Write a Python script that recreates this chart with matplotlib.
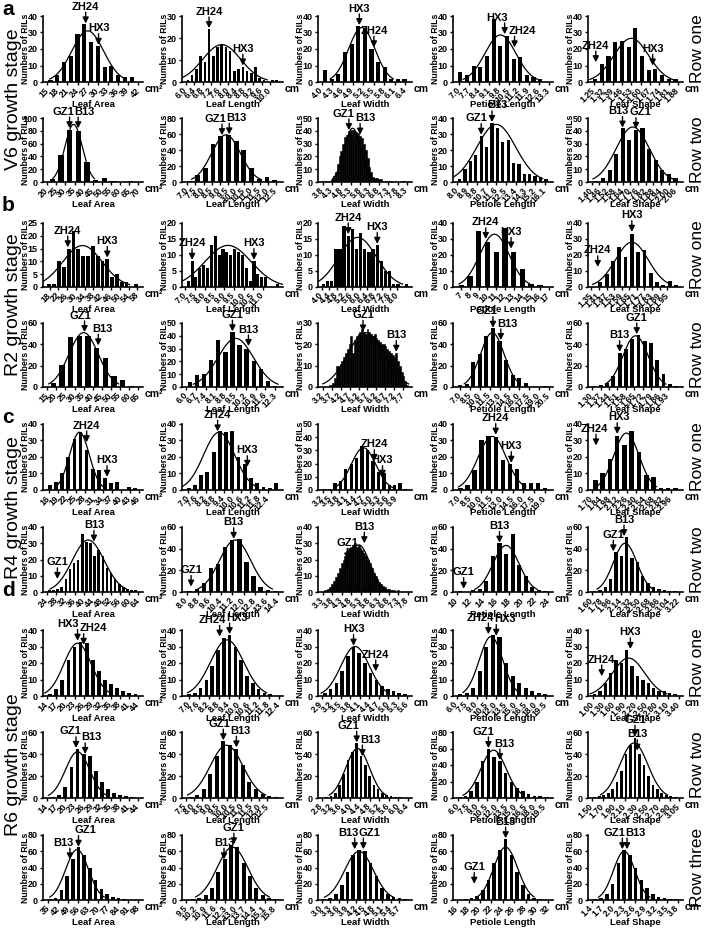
import numpy as np
import matplotlib
matplotlib.use('Agg')
import matplotlib.pyplot as plt

plt.rcParams['font.family'] = ['Liberation Sans', 'DejaVu Sans']
plt.rcParams['font.weight'] = 'bold'

# ---------------------------------------------------------------- data
TRAITS = ['area', 'length', 'width', 'petiole', 'shape']
TRAIT_LABELS = ['Leaf Area', 'Leaf Length', 'Leaf Width', 'Petiole Length', 'Leaf Shape']
TRAIT_UNITS = ['cm\u00b2', 'cm', 'cm', 'cm', 'cm']
ROWS = ['v6r1', 'v6r2', 'r2r1', 'r2r2', 'r4r1', 'r4r2', 'r6r1', 'r6r2', 'r6r3']
ROW_LABELS = ['Row one', 'Row two', 'Row one', 'Row two', 'Row one', 'Row two',
              'Row one', 'Row two', 'Row three']
STAGE_LETTERS = ['a', 'b', 'c', 'd']
STAGE_NAMES = ['V6 growth stage', 'R2 growth stage', 'R4 growth stage', 'R6 growth stage']
STAGE_ROWS = [[0, 1], [2, 3], [4, 5], [6, 7, 8]]

# ---- V6, row one
v6r1_ymax = [40, 30, 40, 40, 40]
v6r1_area_counts = [1, 4, 12, 16, 29, 35, 24, 22, 9, 10, 4, 3, 3]
v6r1_area_bins = (16, 2)
v6r1_area_ticks = ['15', '18', '21', '24', '27', '30', '33', '36', '39', '42']
v6r1_area_fit = (27, 4.7, 31)
v6r1_area_marks = [('ZH24', 26.4, 35.5), ('HX3', 30.2, 22.5)]
v6r1_length_counts = [1, 3, 6, 12, 9, 24, 12, 16, 17, 16, 14, 5, 6, 7, 5, 4, 7, 2, 1, 0, 1, 1]
v6r1_length_bins = (6.1, 0.2)
v6r1_length_ticks = ['6.0', '6.4', '6.8', '7.2', '7.6', '8.0', '8.4', '8.8', '9.2', '9.6', '10.0']
v6r1_length_fit = (7.7, 0.9, 17)
v6r1_length_marks = [('ZH24', 7.1, 24.5), ('HX3', 8.7, 7.5)]
v6r1_width_counts = [7, 2, 5, 18, 23, 34, 33, 20, 12, 9, 2, 2, 2]
v6r1_width_bins = (4.1, 0.19)
v6r1_width_ticks = ['4.0', '4.3', '4.6', '4.9', '5.2', '5.5', '5.8', '6.1', '6.4']
v6r1_width_fit = (5.15, 0.38, 33)
v6r1_width_marks = [('HX3', 5.08, 34.5), ('ZH24', 5.5, 21)]
v6r1_petiole_counts = [6, 4, 10, 9, 16, 38, 22, 28, 14, 15, 4, 3, 2]
v6r1_petiole_bins = (7.07, 0.47)
v6r1_petiole_ticks = ['7.0', '7.7', '8.4', '9.1', '9.8', '10.5', '11.2', '11.9', '12.6', '13.3']
v6r1_petiole_fit = (9.9, 1.1, 28.5)
v6r1_petiole_marks = [('HX3', 10.2, 29), ('ZH24', 10.9, 21)]
v6r1_shape_counts = [2, 11, 16, 24, 25, 21, 33, 16, 7, 8, 4, 2, 2]
v6r1_shape_bins = (1.26, 0.05)
v6r1_shape_ticks = ['1.25', '1.32', '1.39', '1.46', '1.53', '1.60', '1.67', '1.74', '1.81', '1.88']
v6r1_shape_fit = (1.53, 0.13, 26.5)
v6r1_shape_marks = [('ZH24', 1.265, 12), ('HX3', 1.69, 10)]

# ---- V6, row two
v6r2_ymax = [100, 80, 50, 40, 50]
v6r2_area_counts = [4, 42, 82, 80, 32, 3, 6, 1, 0, 1]
v6r2_area_bins = (22.9, 4.75)
v6r2_area_ticks = ['20', '25', '30', '35', '40', '45', '50', '55', '60', '65', '70']
v6r2_area_fit = (34.5, 4.8, 90)
v6r2_area_marks = [('GZ1', 32.3, 84), ('B13', 37.0, 84)]
v6r2_length_counts = [1, 9, 18, 47, 58, 59, 51, 40, 18, 4, 6, 2]
v6r2_length_bins = (7.15, 0.48)
v6r2_length_ticks = ['7.0', '7.5', '8.0', '8.5', '9.0', '9.5', '10.0', '10.5', '11.0', '11.5',
                     '12.0', '12.5']
v6r2_length_fit = (9.4, 0.9, 59)
v6r2_length_marks = [('GZ1', 9.15, 58.5), ('B13', 9.6, 59.5)]
v6r2_width_counts = [1, 1, 0, 0, 1, 2, 5, 8, 14, 20, 24, 30, 35, 37, 40, 41, 41, 40, 39, 38,
                     36, 34, 30, 25, 19, 12, 8, 4, 3, 3, 2, 2, 0, 0, 1, 0, 1, 0, 0, 0, 0, 0,
                     0, 1, 0, 0]
v6r2_width_bins = (3.8, 0.1)
v6r2_width_ticks = ['3.8', '4.3', '4.8', '5.3', '5.8', '6.3', '6.8', '7.3', '7.8', '8.3']
v6r2_width_fit = (5.4, 0.45, 42)
v6r2_width_marks = [('GZ1', 5.2, 40.5), ('B13', 5.8, 37)]
v6r2_petiole_counts = [2, 8, 13, 17, 29, 22, 37, 34, 25, 26, 12, 11, 5, 5, 4, 3, 2]
v6r2_petiole_bins = (8.2, 0.5)
v6r2_petiole_ticks = ['8.0', '8.9', '9.8', '10.7', '11.6', '12.5', '13.4', '14.3', '15.2', '16.1']
v6r2_petiole_fit = (11.6, 1.8, 36)
v6r2_petiole_marks = [('GZ1', 10.2, 29.5), ('B13', 11.2, 37.5)]
v6r2_shape_counts = [1, 3, 9, 22, 42, 33, 41, 42, 26, 17, 9, 6, 3]
v6r2_shape_bins = (1.436, 0.0515)
v6r2_shape_ticks = ['1.40', '1.46', '1.52', '1.58', '1.64', '1.70', '1.76', '1.82', '1.88',
                    '1.94', '2.00', '2.06']
v6r2_shape_fit = (1.72, 0.13, 43)
v6r2_shape_marks = [('B13', 1.64, 42.5), ('GZ1', 1.745, 41.5)]

# ---- R2, row one
r2r1_ymax = [25, 20, 20, 40, 40]
r2r1_area_counts = [1, 1, 10, 8, 15, 22, 15, 12, 12, 16, 12, 10, 11, 4, 5, 2, 2, 0, 1]
r2r1_area_bins = (17.9, 2.2)
r2r1_area_ticks = ['18', '22', '26', '30', '34', '38', '42', '46', '50', '54', '58']
r2r1_area_fit = (33, 9, 16.2)
r2r1_area_marks = [('ZH24', 26.3, 15.5), ('HX3', 44.3, 11.5)]
r2r1_length_counts = [2, 8, 3, 6, 7, 6, 13, 16, 10, 12, 11, 10, 12, 11, 10, 6, 2, 8, 4, 3, 3,
                      0, 0, 1]
r2r1_length_bins = (7.14, 0.2)
r2r1_length_ticks = ['7.0', '7.5', '8.0', '8.5', '9.0', '9.5', '10.0', '10.5', '11.0']
r2r1_length_fit = (9.2, 1.2, 13)
r2r1_length_marks = [('ZH24', 7.34, 8.5), ('HX3', 10.54, 8.5)]
r2r1_width_counts = [1, 2, 2, 12, 12, 19, 16, 18, 12, 17, 12, 11, 12, 13, 8, 5, 5, 1, 1, 0, 1]
r2r1_width_bins = (4.08, 0.22)
r2r1_width_ticks = ['4.0', '4.4', '4.8', '5.2', '5.6', '6.0', '6.4', '6.8', '7.2', '7.6', '8.0']
r2r1_width_fit = (5.9, 1.0, 15.5)
r2r1_width_marks = [('ZH24', 5.4, 16.5), ('HX3', 6.94, 13.5)]
r2r1_petiole_counts = [1, 7, 35, 28, 22, 37, 22, 11, 2, 1]
r2r1_petiole_bins = (7.0, 1.0)
r2r1_petiole_ticks = ['7', '8', '9', '10', '11', '12', '13', '14', '15', '16', '17']
r2r1_petiole_fit = (10.8, 1.7, 33)
r2r1_petiole_marks = [('ZH24', 9.8, 30), ('HX3', 12.7, 24)]
r2r1_shape_counts = [3, 8, 16, 25, 19, 33, 22, 23, 9, 3, 1, 4, 1]
r2r1_shape_bins = (1.42, 0.05)
r2r1_shape_ticks = ['1.35', '1.41', '1.47', '1.53', '1.59', '1.65', '1.71', '1.77', '1.83',
                    '1.89', '1.95']
r2r1_shape_fit = (1.67, 0.13, 28)
r2r1_shape_marks = [('ZH24', 1.40, 12.5), ('HX3', 1.67, 34.5)]

# ---- R2, row two
r2r2_ymax = [60, 50, 30, 60, 60]
r2r2_area_counts = [4, 21, 47, 48, 48, 37, 27, 10, 7, 1]
r2r2_area_bins = (18.4, 4.75)
r2r2_area_ticks = ['15', '20', '25', '30', '35', '40', '45', '50', '55', '60', '65']
r2r2_area_fit = (35, 8, 51)
r2r2_area_marks = [('GZ1', 35.5, 51.5), ('B13', 43.0, 39)]
r2r2_length_counts = [4, 9, 10, 21, 37, 27, 43, 33, 30, 20, 14, 5, 1]
r2r2_length_bins = (6.27, 0.5)
r2r2_length_ticks = ['6.0', '6.7', '7.4', '8.1', '8.8', '9.5', '10.2', '10.9', '11.6', '12.3']
r2r2_length_fit = (9.5, 1.25, 38)
r2r2_length_marks = [('GZ1', 9.27, 43.5), ('B13', 10.4, 32)]
r2r2_width_counts = [0, 0, 0, 0, 1, 1, 2, 4, 10, 10, 11, 12, 14, 16, 18, 20, 24, 16, 22, 24,
                     25, 26, 27, 26, 25, 27, 26, 25, 24, 25, 23, 22, 21, 20, 20, 19, 18, 17,
                     16, 15, 14, 16, 12, 10, 7, 5, 3, 1]
r2r2_width_bins = (3.2, 0.1)
r2r2_width_ticks = ['3.2', '3.7', '4.2', '4.7', '5.2', '5.7', '6.2', '6.7', '7.2', '7.7']
r2r2_width_fit = (5.6, 1.0, 25.5)
r2r2_width_marks = [('GZ1', 5.45, 26), ('B13', 7.3, 16.5)]
r2r2_petiole_counts = [2, 3, 23, 31, 48, 55, 43, 25, 11, 8, 4, 0, 0, 1]
r2r2_petiole_bins = (7.0, 1.0)
r2r2_petiole_ticks = ['7.0', '8.5', '10.0', '11.5', '13.0', '14.5', '16.0', '17.5', '19.0', '20.5']
r2r2_petiole_fit = (11.9, 1.8, 51)
r2r2_petiole_marks = [('GZ1', 12.0, 55.5), ('B13', 13.2, 44)]
r2r2_shape_counts = [1, 2, 4, 10, 32, 36, 45, 49, 43, 41, 25, 12, 3, 1]
r2r2_shape_bins = (1.32, 0.052)
r2r2_shape_ticks = ['1.30', '1.37', '1.44', '1.51', '1.58', '1.65', '1.72', '1.79', '1.86', '1.93']
r2r2_shape_fit = (1.66, 0.105, 48)
r2r2_shape_marks = [('B13', 1.528, 33), ('GZ1', 1.67, 49.5)]

# ---- R4, row one
r4r1_ymax = [40, 40, 50, 40, 40]
r4r1_area_counts = [3, 5, 10, 20, 31, 35, 24, 13, 12, 7, 4, 5, 0, 2, 1]
r4r1_area_bins = (16.5, 2.03)
r4r1_area_ticks = ['16', '19', '22', '25', '28', '31', '34', '37', '40', '43', '46']
r4r1_area_fit = (26.3, 3.3, 35)
r4r1_area_marks = [('ZH24', 28.7, 29), ('HX3', 35.5, 8)]
r4r1_length_counts = [1, 3, 9, 11, 23, 36, 35, 36, 20, 16, 7, 4, 2, 1, 4]
r4r1_length_bins = (7.05, 0.42)
r4r1_length_ticks = ['7.0', '7.6', '8.2', '8.8', '9.4', '10.0', '10.6', '11.2', '11.8', '12.4']
r4r1_length_fit = (9.1, 1.05, 35)
r4r1_length_marks = [('ZH24', 9.0, 35.5), ('HX3', 11.0, 14)]
r4r1_width_counts = [1, 1, 5, 7, 16, 20, 24, 33, 30, 22, 14, 13, 4, 4, 5, 1]
r4r1_width_bins = (3.25, 0.2)
r4r1_width_ticks = ['3.2', '3.5', '3.8', '4.1', '4.4', '4.7', '5.0', '5.3', '5.6', '5.9']
r4r1_width_fit = (4.7, 0.45, 32)
r4r1_width_marks = [('ZH24', 5.1, 22), ('HX3', 5.4, 10)]
r4r1_petiole_counts = [1, 3, 12, 30, 33, 32, 18, 16, 13, 4, 4, 4, 1]
r4r1_petiole_bins = (7.1, 1.0)
r4r1_petiole_ticks = ['7.0', '8.5', '10.0', '11.5', '13.0', '14.5', '16.0', '17.5', '19.0']
r4r1_petiole_fit = (11.6, 2.0, 32.5)
r4r1_petiole_marks = [('ZH24', 12.1, 33.5), ('HX3', 14.3, 16.5)]
r4r1_shape_counts = [6, 10, 19, 33, 27, 36, 23, 9, 8, 1, 1, 1]
r4r1_shape_bins = (1.76, 0.115)
r4r1_shape_ticks = ['1.70', '1.84', '1.98', '2.12', '2.26', '2.40', '2.54', '2.68', '2.82', '2.96']
r4r1_shape_fit = (2.25, 0.2, 34.5)
r4r1_shape_marks = [('ZH24', 1.77, 27), ('HX3', 2.105, 34)]

# ---- R4, row two
r4r2_ymax = [40, 60, 40, 60, 60]
r4r2_area_counts = [1, 1, 2, 3, 8, 14, 18, 20, 36, 31, 30, 22, 26, 22, 15, 12, 8, 5, 3, 2, 1, 1]
r4r2_area_bins = (25, 1.8)
r4r2_area_ticks = ['24', '28', '32', '36', '40', '44', '48', '52', '56', '60', '64']
r4r2_area_fit = (42, 7, 32)
r4r2_area_marks = [('GZ1', 28.5, 8), ('B13', 44.5, 31)]
r4r2_length_counts = [1, 3, 8, 22, 26, 42, 48, 49, 28, 15, 5, 2, 1]
r4r2_length_bins = (8.2, 0.5)
r4r2_length_ticks = ['8.0', '8.8', '9.6', '10.4', '11.2', '12.0', '12.8', '13.6', '14.4']
r4r2_length_fit = (11.4, 1.1, 48)
r4r2_length_marks = [('GZ1', 8.3, 5), ('B13', 11.3, 49)]
r4r2_width_counts = [0, 1, 1, 2, 3, 5, 7, 9, 12, 15, 18, 20, 22, 25, 27, 28, 29, 30, 28, 29,
                     27, 26, 24, 22, 20, 18, 15, 12, 10, 8, 6, 5, 4, 3, 2, 2, 1, 1, 1, 0, 1]
r4r2_width_bins = (3.3, 0.1)
r4r2_width_ticks = ['3.3', '3.8', '4.3', '4.8', '5.3', '5.8', '6.3', '6.8', '7.3', '7.8']
r4r2_width_fit = (5.2, 0.6, 29)
r4r2_width_marks = [('GZ1', 4.6, 20), ('B13', 5.5, 30)]
r4r2_petiole_counts = [1, 0, 2, 3, 10, 33, 45, 35, 54, 25, 15, 5, 2, 1]
r4r2_petiole_bins = (10.5, 1.0)
r4r2_petiole_ticks = ['10', '12', '14', '16', '18', '20', '22', '24']
r4r2_petiole_fit = (17.5, 2, 43)
r4r2_petiole_marks = [('GZ1', 11.0, 3), ('B13', 16.5, 45.5)]
r4r2_shape_counts = [1, 2, 5, 12, 37, 33, 51, 31, 28, 15, 8, 5, 3, 2, 1, 1]
r4r2_shape_bins = (1.65, 0.1)
r4r2_shape_ticks = ['1.60', '1.78', '1.96', '2.14', '2.32', '2.50', '2.68', '2.86', '3.04', '3.22']
r4r2_shape_fit = (2.22, 0.22, 45)
r4r2_shape_marks = [('GZ1', 2.0, 37.5), ('B13', 2.2, 51.5)]

# ---- R6, row one
r6r1_ymax = [40, 40, 40, 40, 40]
r6r1_area_counts = [1, 4, 10, 22, 30, 33, 32, 22, 15, 10, 7, 5, 3, 2, 1]
r6r1_area_bins = (15, 2)
r6r1_area_ticks = ['14', '17', '20', '23', '26', '29', '32', '35', '38', '41', '44']
r6r1_area_fit = (24, 4.5, 32)
r6r1_area_marks = [('HX3', 24.0, 33.5), ('ZH24', 26.0, 31)]
r6r1_length_counts = [1, 2, 5, 10, 18, 28, 35, 37, 30, 22, 12, 8, 4, 2, 1]
r6r1_length_bins = (7.0, 0.35)
r6r1_length_ticks = ['7.0', '7.6', '8.2', '8.8', '9.4', '10.0', '10.6', '11.2', '11.8', '12.4']
r6r1_length_fit = (9.3, 1.0, 34)
r6r1_length_marks = [('ZH24', 8.85, 36), ('HX3', 9.45, 37.5)]
r6r1_width_counts = [2, 4, 8, 15, 24, 30, 26, 20, 14, 10, 6, 4, 3, 2, 1]
r6r1_width_bins = (3.0, 0.18)
r6r1_width_ticks = ['2.9', '3.2', '3.5', '3.8', '4.1', '4.4', '4.7', '5.0', '5.3', '5.6']
r6r1_width_fit = (3.95, 0.45, 30)
r6r1_width_marks = [('HX3', 3.9, 30.5), ('ZH24', 4.6, 15)]
r6r1_petiole_counts = [1, 2, 5, 15, 30, 37, 36, 20, 12, 8, 5, 3, 2, 1]
r6r1_petiole_bins = (6.5, 1.0)
r6r1_petiole_ticks = ['6.0', '7.5', '9.0', '10.5', '12.0', '13.5', '15.0', '16.5', '18.0', '19.5']
r6r1_petiole_fit = (11.2, 1.8, 36)
r6r1_petiole_marks = [('ZH24', 10.8, 37.5), ('HX3', 12.0, 36.5)]
r6r1_shape_counts = [1, 3, 8, 14, 22, 20, 28, 18, 12, 10, 8, 5, 3, 3, 2, 1]
r6r1_shape_bins = (1.05, 0.15)
r6r1_shape_ticks = ['1.00', '1.30', '1.60', '1.90', '2.20', '2.50', '2.80', '3.10', '3.40']
r6r1_shape_fit = (2.0, 0.45, 23)
r6r1_shape_marks = [('ZH24', 1.25, 12), ('HX3', 2.05, 28.5)]

# ---- R6, row two
r6r2_ymax = [60, 60, 60, 80, 60]
r6r2_area_counts = [1, 3, 10, 28, 45, 40, 38, 25, 15, 8, 5, 3, 2, 1]
r6r2_area_bins = (16, 2)
r6r2_area_ticks = ['14', '17', '20', '23', '26', '29', '32', '35', '38', '41', '44']
r6r2_area_fit = (24, 4, 42)
r6r2_area_marks = [('GZ1', 23.5, 45.5), ('B13', 26.5, 40)]
r6r2_length_counts = [1, 3, 8, 22, 38, 52, 48, 45, 30, 15, 8, 4, 2, 1]
r6r2_length_bins = (7.8, 0.4)
r6r2_length_ticks = ['7.5', '8.0', '8.5', '9.0', '9.5', '10.0', '10.5', '11.0', '11.5', '12.0', '12.5']
r6r2_length_fit = (10, 1, 48)
r6r2_length_marks = [('GZ1', 9.8, 52.5), ('B13', 10.6, 46)]
r6r2_width_counts = [1, 2, 5, 12, 22, 35, 42, 50, 38, 30, 20, 12, 8, 5, 3, 2, 1, 1]
r6r2_width_bins = (3.0, 0.18)
r6r2_width_ticks = ['2.8', '3.2', '3.6', '4.0', '4.4', '4.8', '5.2', '5.6', '6.0', '6.4']
r6r2_width_fit = (4.3, 0.5, 45)
r6r2_width_marks = [('GZ1', 4.26, 50.5), ('B13', 4.5, 38)]
r6r2_petiole_counts = [1, 3, 8, 20, 45, 60, 50, 45, 30, 20, 12, 8, 5, 3, 2, 1]
r6r2_petiole_bins = (6.2, 0.9)
r6r2_petiole_ticks = ['6.0', '7.5', '9.0', '10.5', '12.0', '13.5', '15.0', '16.5', '18.0', '19.5']
r6r2_petiole_fit = (11.5, 2, 58)
r6r2_petiole_marks = [('GZ1', 10.7, 60.5), ('B13', 12.5, 46)]
r6r2_shape_counts = [1, 2, 3, 5, 8, 15, 25, 40, 48, 55, 40, 30, 20, 12, 8, 5, 3, 2, 1]
r6r2_shape_bins = (1.55, 0.08)
r6r2_shape_ticks = ['1.50', '1.70', '1.90', '2.10', '2.30', '2.50', '2.70', '2.90', '3.05']
r6r2_shape_fit = (2.25, 0.25, 50)
r6r2_shape_marks = [('GZ1', 2.27, 56), ('B13', 2.31, 43)]

# ---- R6, row three
r6r3_ymax = [80, 80, 80, 80, 80]
r6r3_area_counts = [1, 3, 12, 30, 50, 65, 55, 40, 25, 14, 8, 4, 2, 1]
r6r3_area_bins = (36, 4)
r6r3_area_ticks = ['35', '42', '49', '56', '63', '70', '77', '84', '91', '98']
r6r3_area_fit = (55, 8, 62)
r6r3_area_marks = [('B13', 50, 50), ('GZ1', 56, 65.5)]
r6r3_length_counts = [1, 2, 6, 15, 35, 50, 68, 65, 45, 30, 15, 6, 3, 1]
r6r3_length_bins = (10.0, 0.45)
r6r3_length_ticks = ['9.5', '10.2', '10.9', '11.6', '12.3', '13.0', '13.7', '14.4', '15.1', '15.8']
r6r3_length_fit = (12.8, 1.1, 65)
r6r3_length_marks = [('B13', 12.2, 50), ('GZ1', 12.9, 68.5)]
r6r3_width_counts = [1, 3, 8, 18, 35, 55, 62, 60, 45, 30, 15, 8, 4, 2, 1]
r6r3_width_bins = (3.1, 0.2)
r6r3_width_ticks = ['3.0', '3.3', '3.6', '3.9', '4.2', '4.5', '4.8', '5.1', '5.4', '5.7']
r6r3_width_fit = (4.3, 0.5, 60)
r6r3_width_marks = [('B13', 4.15, 62.5), ('GZ1', 4.45, 62.5)]
r6r3_petiole_counts = [1, 2, 5, 12, 25, 45, 62, 75, 55, 35, 18, 8, 3, 1]
r6r3_petiole_bins = (17.5, 1.0)
r6r3_petiole_ticks = ['16', '18', '20', '22', '24', '26', '28', '30', '32']
r6r3_petiole_fit = (24.5, 2.1, 65)
r6r3_petiole_marks = [('GZ1', 19.0, 20), ('B13', 24.5, 76)]
r6r3_shape_counts = [1, 3, 8, 20, 45, 62, 55, 40, 25, 15, 8, 4, 2, 1, 1]
r6r3_shape_bins = (1.5, 0.16)
r6r3_shape_ticks = ['1.4', '1.7', '2.0', '2.3', '2.6', '2.9', '3.2', '3.5', '3.8']
r6r3_shape_fit = (2.3, 0.3, 60)
r6r3_shape_marks = [('GZ1', 2.25, 62.5), ('B13', 2.38, 62.5)]

# ---------------------------------------------------------------- layout (pixels)
FIG_W, FIG_H = 704, 944
COL_L = [43, 182, 318, 453, 588]
COL_R = [143, 283, 412, 553, 683]
ROW_T = [16, 118, 223, 323, 424, 527, 630, 732, 835]
ROW_B = [82, 182, 287, 387, 490, 592, 696, 798, 900]
DENSE = {'v6r2_width', 'r2r2_width', 'r4r2_width'}
WIDE = {'r2r1_area', 'r2r1_length', 'r2r1_width'}

fig = plt.figure(figsize=(FIG_W / 100, FIG_H / 100), dpi=100)


def ystep(ymax):
    if ymax <= 25:
        return 5
    if ymax <= 50:
        return 10
    return 20


def draw_panel(ax, key, ymax, label, unit, ax_w_px, ax_h_px):
    counts = np.asarray(globals()[key + '_counts'], float)
    c0, w = globals()[key + '_bins']
    ticks = globals()[key + '_ticks']
    mu, sd, pk = globals()[key + '_fit']
    marks = globals()[key + '_marks']

    centers = c0 + w * np.arange(len(counts))
    tv = np.array([float(t) for t in ticks])
    lo = min(tv[0], centers[0] - w / 2)
    hi = max(tv[-1], centers[-1] + w / 2)
    span = tv[-1] - tv[0]
    x0, x1 = lo - 0.045 * span, hi + 0.05 * span
    ax.set_xlim(x0, x1)
    ax.set_ylim(0, ymax)

    if key in DENSE:
        ax.bar(centers, counts, width=w, color='k', edgecolor='k', linewidth=0.4)
    else:
        fill = 0.8 if key in WIDE else 0.62
        ax.bar(centers, counts, width=w * fill, color='k', linewidth=0)

    xs = np.linspace(max(mu - 2.4 * sd, x0), min(mu + 2.4 * sd, x1), 200)
    ax.plot(xs, pk * np.exp(-0.5 * ((xs - mu) / sd) ** 2), color='k', lw=0.9,
            solid_capstyle='round')

    for s in ('top', 'right'):
        ax.spines[s].set_visible(False)
    for s in ('left', 'bottom'):
        ax.spines[s].set_linewidth(1.2)
    ax.set_yticks(np.arange(0, ymax + 0.01, ystep(ymax)))
    ax.set_yticklabels([str(int(v)) for v in ax.get_yticks()], fontsize=6.5, fontweight='bold')
    ax.set_xticks(tv)
    ax.set_xticklabels(ticks, rotation=45, ha='right', va='center',
                       rotation_mode='anchor', fontsize=6.2, fontweight='bold')
    ax.tick_params(axis='both', length=2.5, width=1.0, pad=1.2)
    ax.tick_params(axis='x', pad=2.5)

    ax.annotate('Numbers of RILs', xy=(0, 0.5), xycoords='axes fraction',
                xytext=(-12.5, 0), textcoords='offset points', rotation=90,
                ha='center', va='center', fontsize=6.3, fontweight='bold')
    ax.annotate(label, xy=(0.5, 0), xycoords='axes fraction', xytext=(0, -16),
                textcoords='offset points', ha='center', va='center',
                fontsize=6.8, fontweight='bold')
    ax.annotate(unit, xy=(1.0, 0), xycoords='axes fraction', xytext=(1.5, -1.5),
                textcoords='offset points', ha='left', va='top',
                fontsize=7.5, fontweight='bold')

    # parent markers: spread labels sideways unless they are well stacked
    pt_per_unit = ax_w_px * 0.72 / (x1 - x0)
    pt_per_count = ax_h_px * 0.72 / ymax
    order = sorted(range(len(marks)), key=lambda i: marks[i][1])
    shifts = [0.0] * len(marks)
    for a, b in zip(order[:-1], order[1:]):
        if abs(marks[a][2] - marks[b][2]) * pt_per_count > 10:
            continue
        wa = 0.62 * 8 * len(marks[a][0])
        wb = 0.62 * 8 * len(marks[b][0])
        need = (wa + wb) / 2 + 0.5
        d = (marks[b][1] - marks[a][1]) * pt_per_unit
        if d < need:
            sft = (need - d) / 2
            shifts[a] -= sft
            shifts[b] += sft
    for (name, x, tip), sft in zip(marks, shifts):
        ax.annotate('', xy=(x, tip), xycoords='data', xytext=(0, 8),
                    textcoords='offset points',
                    arrowprops=dict(arrowstyle='-|>,head_length=0.35,head_width=0.18',
                                    color='k', lw=1.0, shrinkA=0, shrinkB=0),
                    annotation_clip=False)
        ax.annotate(name, xy=(x, tip), xycoords='data', xytext=(sft, 8.3),
                    textcoords='offset points', ha='center', va='bottom',
                    fontsize=8, fontweight='bold', annotation_clip=False)


for r, row in enumerate(ROWS):
    ymaxes = globals()[row + '_ymax']
    for c, trait in enumerate(TRAITS):
        L, R = COL_L[c], COL_R[c]
        T, B = ROW_T[r], ROW_B[r]
        ax = fig.add_axes([L / FIG_W, 1 - B / FIG_H, (R - L) / FIG_W, (B - T) / FIG_H])
        draw_panel(ax, f'{row}_{trait}', ymaxes[c], TRAIT_LABELS[c], TRAIT_UNITS[c],
                   R - L, B - T)
    yc = (ROW_T[r] + ROW_B[r]) / 2
    fig.text(697 / FIG_W, 1 - yc / FIG_H, ROW_LABELS[r], rotation=90, ha='center',
             va='center', fontsize=12.5, fontweight='normal')

LETTER_Y = [0, 196, 408, 581]
for s, (letter, name, rows) in enumerate(zip(STAGE_LETTERS, STAGE_NAMES, STAGE_ROWS)):
    fig.text(2 / FIG_W, 1 - LETTER_Y[s] / FIG_H, letter, ha='left', va='top',
             fontsize=15, fontweight='bold')
    yc = (ROW_T[rows[0]] + ROW_B[rows[-1]]) / 2
    fig.text(14 / FIG_W, 1 - yc / FIG_H, name, rotation=90, ha='center', va='center',
             fontsize=14, fontweight='normal')

fig.savefig('out.png', dpi=100)
